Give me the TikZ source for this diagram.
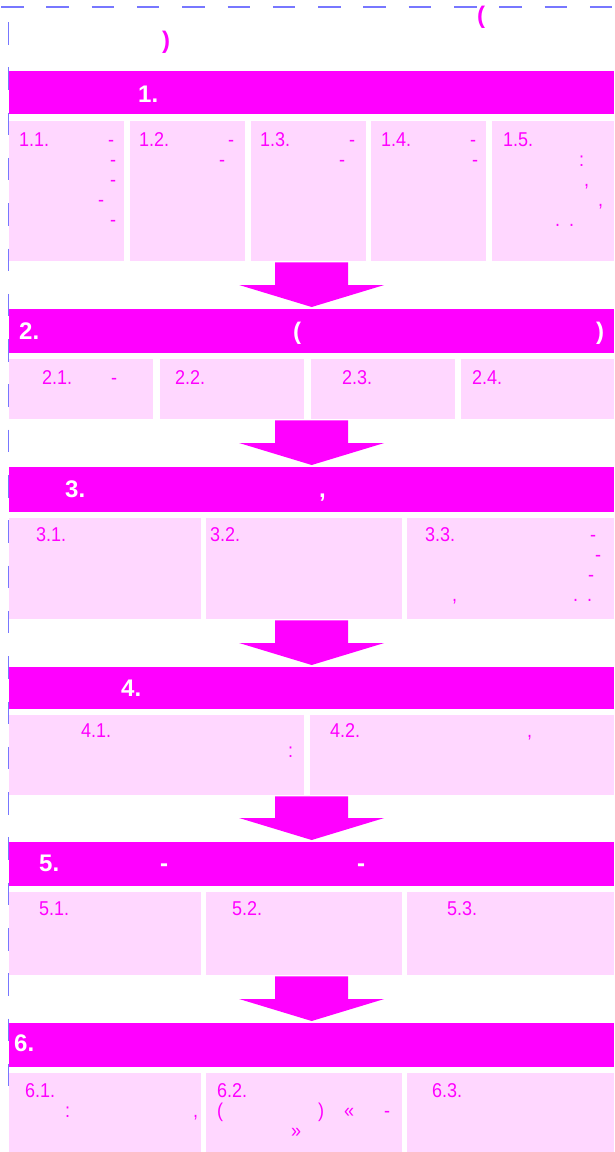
\documentclass[tikz,border=0pt]{standalone}
\usepackage{fontspec}
\setmainfont{Liberation Sans}
\newfontfamily\narrowsans[FakeStretch=0.9]{Liberation Sans}
\usetikzlibrary{calc}
\definecolor{fcMagenta}{HTML}{FF00FF}
\definecolor{fcPink}{HTML}{FFD7FF}
\definecolor{fcFrame}{HTML}{7777FF}
\tikzset{
 chart/.style={x=1pt,y=-1pt},
 dashframe/.style={draw=fcFrame,line width=1.4pt,dash pattern=on 22.5pt off 22.8pt},
 stagebar/.style={fill=fcMagenta,inner sep=0pt,anchor=north west,minimum width=605pt},
 substep/.style={fill=fcPink,inner sep=0pt,anchor=north west},
 headtxt/.style={font=\fontsize{24}{28}\selectfont\bfseries,text=white,inner sep=0pt,anchor=base west},
 titletxt/.style={headtxt,text=fcMagenta},
 steptxt/.style={font=\narrowsans\fontsize{20}{24}\selectfont,text=fcMagenta,inner sep=0pt,anchor=base west},
 arrowfill/.style={fill=fcMagenta}
}
% block arrow from a row of sub-steps (#1) down to the next stage bar (#2)
\newcommand{\flowArrow}[2]{%
 \coordinate (tip) at ($(#2.north)+(0,-2)$);
 \coordinate (top) at (tip |- #1.south);
 \fill[arrowfill] ($(top)+(-36.5,1)$) -- ($(top)+(36.5,1)$) -- ($(tip)+(36.5,-22)$)
   -- ($(tip)+(72.5,-22)$) -- (tip) -- ($(tip)+(-72.5,-22)$) -- ($(tip)+(-36.5,-22)$) -- cycle;}

\begin{document}
\begin{tikzpicture}[chart]
 \useasboundingbox (0,0) rectangle (614,1152);
 % dashed frame
 \draw[dashframe] (1,7) -- (614,7);
 \draw[dashframe] (8.5,22) -- (8.5,1087);
 \node[titletxt] (t1) at (477,23) {(};
 \node[titletxt] (t2) at (162,48) {)};

 % stage 1
 \node[stagebar,minimum height=43pt] (bar1) at (9,71) {};
 \node[headtxt] (h1) at (138,102) {1.};
 \node[substep,minimum width=115pt,minimum height=140pt] (r1a) at (9,121) {};
 \node[substep,minimum width=115pt,minimum height=140pt] (r1b) at (130,121) {};
 \node[substep,minimum width=115pt,minimum height=140pt] (r1c) at (251,121) {};
 \node[substep,minimum width=115pt,minimum height=140pt] (r1d) at (371,121) {};
 \node[substep,minimum width=122pt,minimum height=140pt] (r1e) at (492,121) {};
 \node[steptxt] (n11) at (19,146) {1.1.};
 \node[steptxt] (d11a) at (108,146) {-};
 \node[steptxt] (d11b) at (110,166) {-};
 \node[steptxt] (d11c) at (110,186) {-};
 \node[steptxt] (d11d) at (98,206) {-};
 \node[steptxt] (d11e) at (110,226) {-};
 \node[steptxt] (n12) at (139,146) {1.2.};
 \node[steptxt] (d12a) at (228,146) {-};
 \node[steptxt] (d12b) at (219,166) {-};
 \node[steptxt] (n13) at (260,146) {1.3.};
 \node[steptxt] (d13a) at (349,146) {-};
 \node[steptxt] (d13b) at (339,166) {-};
 \node[steptxt] (n14) at (381,146) {1.4.};
 \node[steptxt] (d14a) at (470,146) {-};
 \node[steptxt] (d14b) at (472,166) {-};
 \node[steptxt] (n15) at (503,146) {1.5.};
 \node[steptxt] (p15a) at (579,166) {:};
 \node[steptxt] (p15b) at (584,186) {,};
 \node[steptxt] (p15c) at (598,206) {,};
 \node[steptxt] (p15d) at (555,226) {.};
 \node[steptxt] (p15e) at (569,226) {.};

 % stage 2
 \node[stagebar,minimum height=44pt] (bar2) at (9,309) {};
 \node[headtxt] (h2) at (19,339) {2.};
 \node[headtxt] (h2a) at (293,339) {(};
 \node[headtxt] (h2b) at (596,339) {)};
 \node[substep,minimum width=144pt,minimum height=60pt] (r2a) at (9,359) {};
 \node[substep,minimum width=144pt,minimum height=60pt] (r2b) at (160,359) {};
 \node[substep,minimum width=144pt,minimum height=60pt] (r2c) at (311,359) {};
 \node[substep,minimum width=153pt,minimum height=60pt] (r2d) at (461,359) {};
 \node[steptxt] (n21) at (42,384) {2.1.};
 \node[steptxt] (d21) at (111,384) {-};
 \node[steptxt] (n22) at (175,384) {2.2.};
 \node[steptxt] (n23) at (342,384) {2.3.};
 \node[steptxt] (n24) at (472,384) {2.4.};

 % stage 3
 \node[stagebar,minimum height=45pt] (bar3) at (9,467) {};
 \node[headtxt] (h3) at (65,497) {3.};
 \node[headtxt] (h3a) at (319,497) {,};
 \node[substep,minimum width=192pt,minimum height=101pt] (r3a) at (9,518) {};
 \node[substep,minimum width=196pt,minimum height=101pt] (r3b) at (206,518) {};
 \node[substep,minimum width=207pt,minimum height=101pt] (r3c) at (407,518) {};
 \node[steptxt] (n31) at (36,541) {3.1.};
 \node[steptxt] (n32) at (210,541) {3.2.};
 \node[steptxt] (n33) at (425,541) {3.3.};
 \node[steptxt] (d33a) at (590,541) {-};
 \node[steptxt] (d33b) at (595,561) {-};
 \node[steptxt] (d33c) at (588,581) {-};
 \node[steptxt] (p33a) at (452,601) {,};
 \node[steptxt] (p33b) at (573,601) {.};
 \node[steptxt] (p33c) at (587,601) {.};

 % stage 4
 \node[stagebar,minimum height=42pt] (bar4) at (9,667) {};
 \node[headtxt] (h4) at (121,696) {4.};
 \node[substep,minimum width=295pt,minimum height=80pt] (r4a) at (9,715) {};
 \node[substep,minimum width=304pt,minimum height=80pt] (r4b) at (310,715) {};
 \node[steptxt] (n41) at (81,737) {4.1.};
 \node[steptxt] (p41) at (288,757) {:};
 \node[steptxt] (n42) at (330,737) {4.2.};
 \node[steptxt] (p42) at (527,737) {,};

 % stage 5
 \node[stagebar,minimum height=44pt] (bar5) at (9,842) {};
 \node[headtxt] (h5) at (39,871) {5.};
 \node[headtxt] (h5a) at (160,871) {-};
 \node[headtxt] (h5b) at (357,871) {-};
 \node[substep,minimum width=192pt,minimum height=83pt] (r5a) at (9,892) {};
 \node[substep,minimum width=196pt,minimum height=83pt] (r5b) at (206,892) {};
 \node[substep,minimum width=207pt,minimum height=83pt] (r5c) at (407,892) {};
 \node[steptxt] (n51) at (39,915) {5.1.};
 \node[steptxt] (n52) at (232,915) {5.2.};
 \node[steptxt] (n53) at (447,915) {5.3.};

 % stage 6
 \node[stagebar,minimum height=44pt] (bar6) at (9,1023) {};
 \node[headtxt] (h6) at (14,1051) {6.};
 \node[substep,minimum width=192pt,minimum height=79pt] (r6a) at (9,1073) {};
 \node[substep,minimum width=196pt,minimum height=79pt] (r6b) at (206,1073) {};
 \node[substep,minimum width=207pt,minimum height=79pt] (r6c) at (407,1073) {};
 \node[steptxt] (n61) at (25,1097) {6.1.};
 \node[steptxt] (p61a) at (65,1117) {:};
 \node[steptxt] (p61b) at (193,1117) {,};
 \node[steptxt] (n62) at (217,1097) {6.2.};
 \node[steptxt] (p62a) at (217,1117) {(};
 \node[steptxt] (p62b) at (318,1117) {)};
 \node[steptxt] (p62c) at (344,1117) {«};
 \node[steptxt] (d62) at (384,1117) {-};
 \node[steptxt] (p62d) at (291,1137) {»};
 \node[steptxt] (n63) at (432,1097) {6.3.};

 % arrows between stages
 \flowArrow{r1c}{bar2}
 \flowArrow{r2c}{bar3}
 \flowArrow{r3b}{bar4}
 \flowArrow{r4a}{bar5}
 \flowArrow{r5b}{bar6}
\end{tikzpicture}
\end{document}
